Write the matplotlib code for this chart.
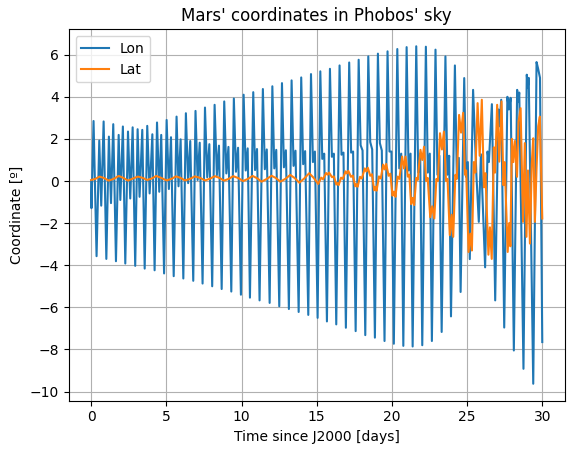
import matplotlib
matplotlib.use("Agg")
import matplotlib.pyplot as plt

# Longitude of Mars in Phobos' sky (turning points)
lon_t = [
    0.00, 0.02, 0.16, 0.36, 0.54, 0.67, 0.83, 1.01, 1.18, 1.32, 1.47, 1.65,
    1.83, 1.94, 2.11, 2.27, 2.45, 2.60, 2.76, 2.93, 3.09, 3.22, 3.40, 3.56,
    3.73, 3.89, 4.07, 4.22, 4.38, 4.53, 4.66, 4.85,
    5.02, 5.17, 5.31, 5.49, 5.68, 5.81, 5.95, 6.13, 6.30, 6.45, 6.59, 6.79,
    6.94, 7.08, 7.22, 7.41, 7.57, 7.72, 7.86, 8.05, 8.21, 8.36, 8.50, 8.68,
    8.85, 8.99, 9.13, 9.32, 9.49, 9.63, 9.77, 9.96,
    10.14, 10.28, 10.41, 10.56, 10.78, 10.90, 11.03, 11.20, 11.42, 11.55, 11.68, 11.87,
    12.05, 12.18, 12.31, 12.51, 12.69, 12.82, 12.95, 13.15, 13.33, 13.46, 13.59, 13.80,
    13.97, 14.10, 14.23, 14.44, 14.62, 14.75, 14.88, 15.06,
    15.24, 15.37, 15.50, 15.68, 15.88, 16.01, 16.14, 16.30, 16.52, 16.65, 16.78, 16.94,
    17.16, 17.29, 17.42, 17.59, 17.79, 17.92, 18.05, 18.23, 18.43, 18.56, 18.69, 18.87,
    19.07, 19.20, 19.33, 19.51, 19.71, 19.84, 19.97, 20.13,
    20.36, 20.49, 20.62, 20.76, 20.98, 21.11, 21.24, 21.38, 21.62, 21.75, 21.88, 22.02,
    22.26, 22.39, 22.52, 22.66, 22.90, 23.03, 23.16, 23.31, 23.56, 23.69, 23.81, 23.93,
    24.19, 24.32, 24.45, 24.57, 24.81, 24.93, 25.05, 25.18,
    25.40, 25.62, 25.78, 25.92, 26.20, 26.36, 26.45, 26.65, 26.87,
    27.08, 27.15, 27.27, 27.47, 27.68, 27.78, 27.90, 28.11,
    28.33, 28.40, 28.47, 28.75, 28.97, 29.04, 29.10, 29.40,
    29.62, 29.72, 29.85, 30.00,
]
lon_v = [
    0.00, -1.29, 2.85, -3.57, 1.92, -1.17, 2.83, -3.70, 2.11, -1.05, 2.70, -3.81,
    2.19, -0.90, 2.59, -3.92, 2.35, -0.83, 2.55, -4.03, 2.46, -0.75, 2.43, -4.16,
    2.62, -0.59, 2.22, -4.24, 2.78, -0.51, 2.19, -4.39,
    2.90, -0.38, 2.08, -4.52, 3.06, -0.25, 1.98, -4.63, 3.22, -0.10, 1.90, -4.74,
    3.33, 0.05, 1.82, -4.87, 3.49, 0.18, 1.75, -5.00, 3.62, 0.28, 1.68, -5.13,
    3.78, 0.36, 1.62, -5.25, 3.92, 0.44, 1.58, -5.40,
    4.10, 0.50, 1.55, -5.54, 4.22, 0.52, 1.52, -5.67, 4.37, 0.56, 1.50, -5.79,
    4.50, 0.60, 1.48, -5.95, 4.65, 0.65, 1.46, -6.08, 4.78, 0.72, 1.44, -6.22,
    4.92, 0.80, 1.42, -6.36, 5.08, 0.90, 1.40, -6.50,
    5.21, 1.05, 1.30, -6.67, 5.33, 1.15, 1.30, -6.81, 5.49, 1.25, 1.35, -6.97,
    5.63, 1.35, 1.40, -7.13, 5.76, 1.70, 1.45, -7.32, 5.92, 1.85, 1.50, -7.44,
    6.05, 1.80, 1.45, -7.60, 6.16, 1.40, 1.40, -7.73,
    6.27, 0.60, 1.30, -7.83, 6.36, 0.50, 1.30, -7.86, 6.40, 0.40, 1.30, -7.80,
    6.38, 0.40, 1.30, -7.60, 6.24, 0.30, 1.20, -7.17, 5.92, 0.30, 1.20, -6.43,
    5.49, 0.20, 1.10, -5.27, 4.89, 0.20, 0.90, -3.71,
    4.33, 0.30, -1.94, 1.27, -4.10, 1.40, 0.90, 3.65, -5.67,
    3.40, 2.60, 3.86, -6.96, 4.00, 3.40, 3.95, -8.05,
    4.33, 3.75, 4.20, -8.92, 5.05, 4.45, 4.90, -9.63,
    5.65, 5.35, 4.90, -7.65,
]

# Latitude of Mars in Phobos' sky (turning points)
lat_t = [
    0.00, 0.28, 0.56, 0.86, 1.16, 1.50, 1.83, 2.14, 2.45, 2.78, 3.11, 3.42,
    3.73, 4.03, 4.33, 4.68, 5.02, 5.33, 5.64, 5.94, 6.24, 6.57, 6.90, 7.24,
    7.57, 7.90, 8.23, 8.53, 8.83, 9.14, 9.45, 9.78, 10.10, 10.42, 10.74, 11.04,
    11.33, 11.66, 12.00, 12.29, 12.58, 12.91, 13.24, 13.54, 13.84, 14.17, 14.50, 14.80,
    15.10,
    15.30, 15.42, 15.62, 15.72, 15.82, 16.02, 16.14, 16.30, 16.38, 16.46,
    16.62, 16.74, 16.92, 17.01, 17.10, 17.28, 17.40, 17.56, 17.64, 17.72,
    17.88, 18.00, 18.20, 18.30, 18.40, 18.56, 18.68, 18.82, 18.90, 18.98,
    19.14, 19.26, 19.42, 19.52, 19.62, 19.78, 19.90, 20.04, 20.14, 20.24,
    20.38, 20.50, 20.68, 20.80, 20.91, 21.06, 21.16, 21.28, 21.38, 21.48,
    21.62, 21.72, 21.90, 22.02, 22.14, 22.28, 22.38, 22.55, 22.68, 22.82,
    22.96, 23.06, 23.20, 23.33, 23.46, 23.60, 23.70, 23.85, 23.97, 24.08,
    24.22, 24.32, 24.47, 24.60, 24.74, 24.86, 24.94, 25.10, 25.22, 25.32,
    25.45, 25.55, 25.70, 25.84, 25.98, 26.12, 26.22, 26.42, 26.52, 26.64,
    26.78, 26.86, 27.00, 27.14, 27.29, 27.42, 27.50, 27.70, 27.80, 27.88,
    27.98, 28.08, 28.18, 28.32, 28.42, 28.56, 28.72, 28.84, 28.95, 29.05,
    29.18, 29.30, 29.40, 29.51, 29.62, 29.73, 29.84, 30.00,
]
lat_v = [
    0.05, 0.10, 0.21, 0.14, 0.02, 0.10, 0.24, 0.15, 0.02, 0.12, 0.21, 0.15,
    0.05, 0.12, 0.24, 0.14, 0.03, 0.10, 0.22, 0.15, 0.03, 0.10, 0.22, 0.15,
    0.03, 0.11, 0.23, 0.15, 0.02, 0.10, 0.23, 0.14, 0.00, 0.10, 0.24, 0.13,
    -0.03, 0.09, 0.25, 0.14, -0.03, 0.10, 0.29, 0.14, -0.08, 0.12, 0.37, 0.15,
    -0.14,
    0.16, 0.08, 0.38, 0.30, 0.40, 0.18, 0.22, -0.17, -0.10, -0.19,
    0.16, 0.10, 0.46, 0.36, 0.48, 0.20, 0.26, -0.25, -0.15, -0.27,
    0.20, 0.12, 0.60, 0.45, 0.63, 0.25, 0.32, -0.44, -0.28, -0.46,
    0.22, 0.12, 0.78, 0.55, 0.81, 0.25, 0.35, -0.70, -0.50, -0.75,
    0.21, 0.10, 1.16, 0.60, 1.16, 0.21, 0.30, -1.10, -0.80, -1.14,
    0.15, 0.05, 1.48, 1.00, 1.63, 0.00, 0.15, -1.72, -1.20, -1.78,
    0.10, 0.00, 2.27, 1.50, 2.35, 0.00, 0.10, -2.57, -1.60, -2.65,
    0.30, 0.10, 3.14, 2.30, 3.24, 0.30, 0.50, -3.37, -2.50, -3.30,
    0.90, 0.40, 3.70, 1.20, 3.86, -0.30, 0.37, -3.50, -2.20, -3.70,
    1.60, 0.40, 3.62, 0.92, 3.78, -0.20, 0.90, -3.37, -2.00, -3.10,
    2.00, 0.90, 1.90, 0.20, 2.80, 3.46, -1.94, 1.80, -2.65, 0.50,
    -2.97, 0.80, 2.03, -1.94, 0.60, 2.60, 3.06, -1.78,
]

fig = plt.figure(figsize=(5.74, 4.53), dpi=100)
ax = fig.add_axes([0.1195, 0.1157, 0.8645, 0.8193])
ax.plot(lon_t, lon_v, label="Lon")
ax.plot(lat_t, lat_v, label="Lat")
ax.set_xlim(-1.5, 31.5)
ax.set_ylim(-10.43, 7.2)
ax.grid(True)
ax.legend(loc="upper left")
ax.set_title("Mars' coordinates in Phobos' sky")
ax.set_xlabel("Time since J2000 [days]")
ax.set_ylabel("Coordinate [º]")
fig.savefig("out.png", dpi=100)
